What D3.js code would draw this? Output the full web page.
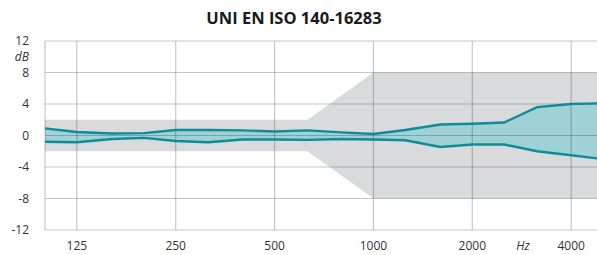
<!DOCTYPE html>
<html>
<head>
<meta charset="utf-8">
<script src="https://cdn.jsdelivr.net/npm/d3@7"></script>
<style>
  body { margin: 0; background: #fff; }
  svg text { font-family: "Open Sans", "Noto Sans", sans-serif; fill: #333; }
</style>
</head>
<body>
<div id="chart"></div>
<script>
"use strict";

// third-octave band centres (Hz)
var freqs = [100, 125, 160, 200, 250, 315, 400, 500, 630, 800, 1000,
             1250, 1600, 2000, 2500, 3150, 4000, 5000];
var upper = [0.9, 0.45, 0.25, 0.3, 0.7, 0.7, 0.65, 0.5, 0.65, 0.4, 0.2,
             0.7, 1.4, 1.5, 1.65, 3.6, 4.0, 4.1];
var lower = [-0.8, -0.85, -0.45, -0.3, -0.7, -0.85, -0.5, -0.5, -0.55, -0.45, -0.5,
             -0.6, -1.45, -1.15, -1.15, -2.0, -2.5, -3.0];

// tolerance band (frequency, limit dB)
var bandFreqs = [100, 630, 1000, 5000];
var bandLimit = [2, 2, 8, 8];

var xTicks = [125, 250, 500, 1000, 2000, 4000];
var yTicks = [12, 8, 4, 0, -4, -8, -12];

var width = 597, height = 255;
var plotLeft = 45, plotTop = 41, plotBottom = 230;

var svg = d3.select("#chart").append("svg")
    .attr("width", width)
    .attr("height", height);

var x = d3.scaleLog().domain([100, 5000]).range([plotLeft, 603]);
var y = d3.scaleLinear().domain([-12, 12]).range([plotBottom, plotTop]);

svg.append("text")
    .attr("x", 294).attr("y", 24)
    .attr("text-anchor", "middle")
    .style("font-size", "16.5px")
    .style("font-weight", "bold")
    .style("fill", "#1a1a1a")
    .text("UNI EN ISO 140-16283");

var plot = svg.append("g");

// gray tolerance band
var band = bandFreqs.map(function(f, i){ return { f: f, v: bandLimit[i] }; });
plot.append("path")
    .datum(band)
    .attr("fill", "#d9dadc")
    .attr("d", d3.area()
        .x(function(d){ return x(d.f); })
        .y0(function(d){ return y(-d.v); })
        .y1(function(d){ return y(d.v); }));

// measured spread
var pts = freqs.map(function(f, i){ return { f: f, hi: upper[i], lo: lower[i] }; });
plot.append("path")
    .datum(pts)
    .attr("fill", "#9fd2d7")
    .attr("d", d3.area()
        .x(function(d){ return x(d.f); })
        .y0(function(d){ return y(d.lo); })
        .y1(function(d){ return y(d.hi); }));

// grid
plot.selectAll(".hgrid")
    .data(yTicks)
    .enter().append("line")
    .attr("x1", plotLeft).attr("x2", width)
    .attr("y1", function(d){ return y(d); })
    .attr("y2", function(d){ return y(d); })
    .attr("stroke", "rgba(0,0,0,0.22)")
    .attr("stroke-width", 1.2);

plot.selectAll(".vgrid")
    .data(xTicks)
    .enter().append("line")
    .attr("x1", function(d){ return x(d); })
    .attr("x2", function(d){ return x(d); })
    .attr("y1", plotTop).attr("y2", plotBottom)
    .attr("stroke", "rgba(0,0,0,0.22)")
    .attr("stroke-width", 1.2);

plot.append("line")
    .attr("x1", plotLeft).attr("x2", plotLeft)
    .attr("y1", plotTop).attr("y2", plotBottom)
    .attr("stroke", "rgba(0,0,0,0.22)")
    .attr("stroke-width", 1.2);

// lines
[upper, lower].forEach(function(series){
    plot.append("path")
        .datum(series)
        .attr("fill", "none")
        .attr("stroke", "#0f8c97")
        .attr("stroke-width", 2.4)
        .attr("d", d3.line()
            .x(function(d, i){ return x(freqs[i]); })
            .y(function(d){ return y(d); }));
});

// axis labels
svg.selectAll(".ylab")
    .data(yTicks)
    .enter().append("text")
    .attr("x", 29)
    .attr("y", function(d){ return y(d) + 4; })
    .attr("text-anchor", "end")
    .style("font-size", "12px")
    .text(function(d){ return d; });

svg.append("text")
    .attr("x", 29).attr("y", 61)
    .attr("text-anchor", "end")
    .style("font-size", "12px")
    .style("font-style", "italic")
    .text("dB");

svg.selectAll(".xlab")
    .data(xTicks)
    .enter().append("text")
    .attr("x", function(d){ return x(d); })
    .attr("y", 250)
    .attr("text-anchor", "middle")
    .style("font-size", "12px")
    .text(function(d){ return d; });

svg.append("text")
    .attr("x", 523).attr("y", 250)
    .attr("text-anchor", "middle")
    .style("font-size", "12px")
    .style("font-style", "italic")
    .text("Hz");
</script>
</body>
</html>
